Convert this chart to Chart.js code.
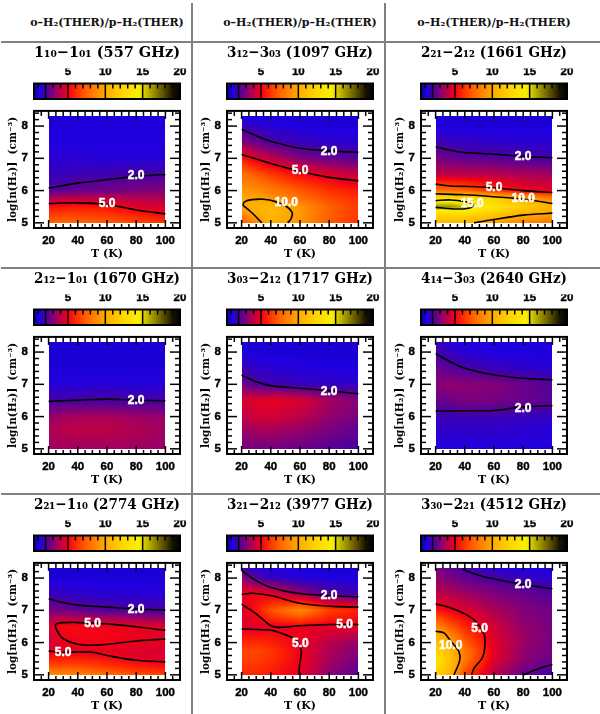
<!DOCTYPE html>
<html>
<head>
<meta charset="utf-8">
<style>
body { margin:0; background:#fff; width:600px; height:714px; overflow:hidden; position:relative; }
canvas { position:absolute; }
.rule { position:absolute; background:#7f7f7f; }
.head { position:absolute; top:16px; width:190px; text-align:center; font:bold 11px "DejaVu Serif"; color:#111; }
</style>
<script src="https://cdn.jsdelivr.net/npm/chart.js@4"></script>
</head>
<body>
<script>
const headText = 'o\u2013H\u2082(THER)/p\u2013H\u2082(THER)';
const titles = [
  '1\u2081\u2080\u22121\u2080\u2081 (557 GHz)', '3\u2081\u2082\u22123\u2080\u2083 (1097 GHz)', '2\u2082\u2081\u22122\u2081\u2082 (1661 GHz)',
  '2\u2081\u2082\u22121\u2080\u2081 (1670 GHz)', '3\u2080\u2083\u22122\u2081\u2082 (1717 GHz)', '4\u2081\u2084\u22123\u2080\u2083 (2640 GHz)',
  '2\u2082\u2081\u22121\u2081\u2080 (2774 GHz)', '3\u2082\u2081\u22122\u2081\u2082 (3977 GHz)', '3\u2083\u2080\u22122\u2082\u2081 (4512 GHz)'
];
const yTitle = 'log[n(H\u2082)]  (cm\u207B\u00B3)';
const xTitle = 'T (K)';

const xTicks = [20, 40, 60, 80, 100];
const xMinor = [10, 15, 25, 30, 35, 45, 50, 55, 65, 70, 75, 85, 90, 95, 105, 110];
const yTicks = [5, 6, 7, 8];
const yMinor = [5.2, 5.4, 5.6, 5.8, 6.2, 6.4, 6.6, 6.8, 7.2, 7.4, 7.6, 7.8, 8.2, 8.4];
const cbLabels = [5, 10, 15, 20];
const cbLevels = [2, 5, 10, 15];
const cbMinor = [1, 3, 4, 6, 7, 8, 9, 11, 12, 13, 14, 16, 17, 18, 19];

// colour table, ratio -> rgb
const cmapValues = [0, 0.5, 1.2, 2, 3, 4, 5, 6, 7.5, 10, 12.5, 14.5, 16, 18, 19, 20];
const cmapColors = [[0,0,110],[10,0,170],[32,0,225],[70,0,165],[130,0,120],[190,0,70],[240,0,25],[255,40,0],[255,100,0],[255,170,0],[255,215,0],[250,240,0],[175,165,0],[80,70,0],[25,20,0],[0,0,0]];

// grid nodes the values were read at
const tNodes = [20, 30, 40, 60, 80, 100];
const nNodes = [8.3, 8, 7.5, 7, 6.5, 6, 5.75, 5.5, 5.25, 5];

const heat557 = [
  [1.1,1.1,1.1,1.1,1.1,1.1],
  [1.1,1.1,1.1,1.1,1.1,1.1],
  [1.2,1.2,1.2,1.2,1.2,1.2],
  [1.4,1.4,1.4,1.3,1.3,1.3],
  [1.7,1.7,1.8,1.9,2.0,2.0],
  [2.2,2.4,2.6,2.7,2.9,3.0],
  [3.8,4.0,4.0,4.0,3.9,3.8],
  [5.4,5.5,5.6,5.4,4.7,4.4],
  [6.5,6.6,6.6,6.4,5.8,5.2],
  [7.5,7.6,7.6,7.2,6.8,6.4]
];
const heat1097 = [
  [1.2,1.1,1.1,1.0,1.0,1.0],
  [1.7,1.5,1.3,1.2,1.1,1.1],
  [3.0,2.6,2.1,1.7,1.5,1.4],
  [5.5,4.6,4.0,3.0,2.5,2.3],
  [8.0,7.2,6.4,5.2,4.6,4.1],
  [9.3,9.0,8.4,7.2,6.2,5.6],
  [9.9,9.8,9.3,7.9,6.8,6.2],
  [10.0,10.4,10.6,9.3,7.4,6.4],
  [8.6,10.0,10.8,9.4,7.4,6.4],
  [7.0,8.8,10.2,9.2,7.2,6.2]
];
const heat1661 = [
  [1.1,1.1,1.0,1.0,1.0,1.0],
  [1.2,1.1,1.1,1.1,1.1,1.1],
  [1.8,1.7,1.6,1.5,1.4,1.4],
  [2.8,2.6,2.4,2.3,2.1,1.95],
  [4.0,4.0,4.0,3.9,3.7,3.5],
  [8.0,7.8,7.5,6.2,5.0,4.7],
  [13.5,13.5,13.0,12.0,10.2,8.5],
  [16.3,16.3,15.6,13.5,12.0,10.6],
  [12.5,12.5,12.5,11.5,10.2,9.6],
  [10.6,10.8,10.6,9.5,8.6,8.0]
];
const heat1670 = [
  [1.0,1.0,1.0,1.0,1.0,1.0],
  [1.05,1.05,1.05,1.05,1.05,1.05],
  [1.1,1.1,1.1,1.1,1.1,1.1],
  [1.3,1.3,1.3,1.35,1.3,1.3],
  [1.95,2.0,2.0,2.05,2.0,2.0],
  [3.3,3.5,3.6,3.6,3.4,3.2],
  [3.6,3.8,3.9,3.9,3.7,3.5],
  [3.7,3.9,3.9,3.9,3.7,3.5],
  [3.6,3.7,3.7,3.7,3.6,3.4],
  [3.4,3.5,3.5,3.5,3.4,3.2]
];
const heat1717 = [
  [1.0,1.0,1.0,1.0,1.0,1.0],
  [1.2,1.1,1.05,1.0,1.0,1.0],
  [1.8,1.5,1.4,1.3,1.2,1.2],
  [2.7,2.1,1.9,1.7,1.6,1.5],
  [4.5,4.7,4.8,4.5,3.6,3.1],
  [4.0,4.3,4.4,4.0,3.3,2.8],
  [3.7,3.9,3.9,3.6,3.0,2.6],
  [3.3,3.5,3.5,3.2,2.8,2.4],
  [3.0,3.1,3.1,2.9,2.5,2.2],
  [2.8,2.8,2.8,2.6,2.3,2.1]
];
const heat2640 = [
  [1.8,1.4,1.2,1.1,1.1,1.1],
  [1.95,1.6,1.4,1.2,1.15,1.1],
  [2.6,2.3,2.0,1.7,1.5,1.4],
  [3.1,3.2,3.2,3.0,2.6,2.2],
  [2.5,2.7,2.9,2.8,2.6,2.3],
  [1.8,1.8,1.85,1.85,1.7,1.6],
  [1.6,1.6,1.6,1.6,1.5,1.4],
  [1.5,1.5,1.5,1.5,1.4,1.3],
  [1.35,1.35,1.35,1.35,1.3,1.3],
  [1.25,1.25,1.25,1.25,1.2,1.2]
];
const heat2774 = [
  [1.0,1.0,1.0,1.0,1.0,1.0],
  [1.1,1.1,1.1,1.1,1.1,1.1],
  [1.7,1.6,1.5,1.4,1.4,1.35],
  [2.9,2.7,2.5,2.2,2.1,1.98],
  [4.5,5.3,5.2,5.1,4.9,4.6],
  [4.3,4.9,5.05,5.1,4.95,4.85],
  [4.7,4.8,4.8,4.85,4.6,4.4],
  [5.7,5.7,5.7,5.4,4.85,4.6],
  [7.0,7.0,7.0,6.4,5.8,5.5],
  [9.0,8.8,8.5,7.8,7.0,6.5]
];
const heat3977 = [
  [1.9,1.4,1.2,1.1,1.0,1.0],
  [3.2,2.2,1.7,1.3,1.2,1.2],
  [5.0,5.2,4.8,3.4,2.2,1.9],
  [4.5,5.4,7.0,8.8,6.6,5.8],
  [4.6,4.7,4.9,4.9,4.8,4.8],
  [6.0,6.0,5.8,5.0,3.9,3.3],
  [6.7,6.7,6.3,5.0,3.7,3.0],
  [6.6,6.6,6.2,5.0,3.6,2.9],
  [6.2,6.2,5.9,4.9,3.4,2.5],
  [6.0,5.9,5.6,4.8,3.2,2.3]
];
const heat4512 = [
  [2.9,2.4,2.0,1.4,1.2,1.1],
  [3.3,2.9,2.5,2.0,1.7,1.5],
  [4.0,3.8,3.5,3.0,2.6,2.2],
  [5.6,5.0,4.6,3.7,3.0,2.7],
  [8.8,7.2,5.9,4.3,3.3,2.8],
  [11.5,10.0,7.4,4.7,3.4,2.8],
  [12.5,10.8,8.3,4.7,3.3,2.7],
  [13.5,11.2,8.2,4.6,3.2,2.6],
  [13.0,10.9,7.5,4.3,2.9,2.4],
  [12.0,10.3,6.6,3.9,2.5,1.9]
];

// contour lines as [T, log n]
const lines557 = [
  [[20,6.08],[40,6.23],[60,6.34],[80,6.44],[100,6.5]],
  [[20,5.6],[40,5.62],[60,5.57],[80,5.4],[100,5.28]]
];
const lines1097 = [
  [[20,7.9],[30,7.7],[40,7.53],[60,7.31],[80,7.23],[100,7.19]],
  [[20,7.12],[40,6.84],[60,6.6],[80,6.41],[100,6.3]],
  [[33.8,5],[29.2,5.22],[24.6,5.41],[21.1,5.55],[22.3,5.66],[26.9,5.72],[34.9,5.73],[43,5.66],[51,5.5],[54.7,5.31],[53.8,5.12],[51.5,5]]
];
const lines1661 = [
  [[20,7.36],[30,7.25],[40,7.18],[60,7.13],[80,7.06],[100,7.02]],
  [[20,6.2],[30,6.14],[40,6.13],[60,6.09],[80,6],[100,5.94]],
  [[20,5.9],[40,5.87],[60,5.81],[80,5.74],[100,5.6]],
  [[46.3,5],[56.6,5.08],[80,5.24],[100,5.3]],
  [[20,5.69],[30,5.71],[40,5.66],[46,5.58],[44,5.47],[35,5.43],[20,5.48]]
];
const lines1670 = [
  [[20,6.47],[40,6.51],[60,6.54],[80,6.51],[100,6.49]]
];
const lines1717 = [
  [[20,7.29],[30,7.08],[40,6.96],[60,6.88],[80,6.8],[100,6.71]]
];
const lines2640 = [
  [[20,7.95],[30,7.7],[40,7.5],[60,7.29],[80,7.19],[100,7.14]],
  [[20,6.17],[40,6.18],[60,6.19],[80,6.3],[100,6.34]]
];
const lines2774 = [
  [[20,7.36],[30,7.24],[40,7.16],[60,7.1],[80,7.04],[100,7.01]],
  [[100,6.38],[80,6.49],[60,6.58],[40,6.62],[30.3,6.62],[24.8,6.56],[26.2,6.33],[30.3,6.11],[40,5.95],[52.7,5.92],[66.9,5.98],[80,6.05],[100,6.11]],
  [[20,5.74],[30,5.7],[40,5.71],[50,5.7],[60,5.6],[80,5.45],[100,5.4]]
];
const lines3977 = [
  [[20,8.23],[30,7.92],[40,7.71],[60,7.52],[80,7.45],[100,7.42]],
  [[20,7.49],[27,7.53],[40,7.46],[60,7.22],[80,7.13],[100,7.1]],
  [[20,7.19],[30,6.89],[40,6.52],[45,6.47],[60,6.52],[80,6.56],[100,6.56]],
  [[20,6.42],[40,6.38],[50,6.24],[58,6.05],[60.9,5.72],[59.8,5.35],[59.3,5]]
];
const lines4512 = [
  [[38.3,8.28],[40,8.24],[50,8.08],[60,7.97],[80,7.8],[100,7.67]],
  [[80.6,5],[88.6,5.16],[100,5.32]],
  [[20,7.2],[30,7.08],[40,6.89],[47.4,6.66],[53,6.28],[53.8,5.91],[52,5.53],[46.3,5.2],[44.7,5]],
  [[20,6.35],[25.7,6.3],[30.3,6.05],[36,5.72],[36.5,5.44],[32.6,5]]
];

// contour labels as [T, log n, text]
const marks557 = [[80,6.46,'2.0'],[60,5.59,'5.0']];
const marks1097 = [[80,7.2,'2.0'],[60,6.61,'5.0'],[50.6,5.64,'10.0']];
const marks1661 = [[80,7.04,'2.0'],[60,6.1,'5.0'],[80,5.75,'10.0'],[45,5.58,'15.0']];
const marks1670 = [[80,6.5,'2.0']];
const marks1717 = [[80,6.78,'2.0']];
const marks2640 = [[80,6.23,'2.0']];
const marks2774 = [[80,7.03,'2.0'],[50.2,6.58,'5.0'],[30,5.69,'5.0']];
const marks3977 = [[80,7.45,'2.0'],[90.6,6.54,'5.0'],[60.2,5.98,'5.0']];
const marks4512 = [[80,7.78,'2.0'],[50.2,6.44,'5.0'],[30.3,5.9,'10.0']];

const heats = [heat557, heat1097, heat1661, heat1670, heat1717, heat2640, heat2774, heat3977, heat4512];
const lines = [lines557, lines1097, lines1661, lines1670, lines1717, lines2640, lines2774, lines3977, lines4512];
const marks = [marks557, marks1097, marks1661, marks1670, marks1717, marks2640, marks2774, marks3977, marks4512];

const colLeft = [34, 227, 421];
const rowTop = [45, 271, 497];
const sans = '"Liberation Sans"';
const serif = '"DejaVu Serif"';
const tickStyle = { family: sans, size: 11.5, weight: 'bold' };

Chart.defaults.color = '#000';
Chart.defaults.animation = false;

function colourAt(v) {
  if (v <= cmapValues[0]) return cmapColors[0];
  for (let i = 1; i < cmapValues.length; i++) {
    if (v <= cmapValues[i]) {
      const f = (v - cmapValues[i - 1]) / (cmapValues[i] - cmapValues[i - 1]);
      const a = cmapColors[i - 1], b = cmapColors[i];
      return [a[0] + (b[0] - a[0]) * f, a[1] + (b[1] - a[1]) * f, a[2] + (b[2] - a[2]) * f];
    }
  }
  return cmapColors[cmapColors.length - 1];
}

function valueAt(grid, t, n) {
  let i = 0, j = 0;
  while (i < tNodes.length - 2 && t > tNodes[i + 1]) i++;
  while (j < nNodes.length - 2 && n < nNodes[j + 1]) j++;
  const ft = Math.min(1, Math.max(0, (t - tNodes[i]) / (tNodes[i + 1] - tNodes[i])));
  const fn = Math.min(1, Math.max(0, (n - nNodes[j]) / (nNodes[j + 1] - nNodes[j])));
  const top = grid[j][i] * (1 - ft) + grid[j][i + 1] * ft;
  const bot = grid[j + 1][i] * (1 - ft) + grid[j + 1][i + 1] * ft;
  return top * (1 - fn) + bot * fn;
}

function addCanvas(left, top, w, h) {
  const c = document.createElement('canvas');
  c.width = w; c.height = h;
  c.style.left = left + 'px';
  c.style.top = top + 'px';
  c.style.width = w + 'px';
  c.style.height = h + 'px';
  document.body.appendChild(c);
  return c;
}

function tickLine(ctx, x1, y1, x2, y2) {
  ctx.beginPath();
  ctx.moveTo(x1, y1);
  ctx.lineTo(x2, y2);
  ctx.stroke();
}

const heatPlugin = {
  id: 'heat',
  beforeDatasetsDraw(chart, args, opts) {
    const x = chart.scales.x, y = chart.scales.y, ctx = chart.ctx;
    const x0 = Math.round(x.getPixelForValue(tNodes[0]));
    const x1 = Math.round(x.getPixelForValue(tNodes[tNodes.length - 1]));
    const y0 = Math.round(y.getPixelForValue(nNodes[0]));
    const y1 = Math.round(y.getPixelForValue(nNodes[nNodes.length - 1]));
    const img = ctx.createImageData(x1 - x0, y1 - y0);
    let k = 0;
    for (let py = y0; py < y1; py++) {
      const n = y.getValueForPixel(py + 0.5);
      for (let px = x0; px < x1; px++) {
        const c = colourAt(valueAt(opts.grid, x.getValueForPixel(px + 0.5), n));
        img.data[k++] = c[0]; img.data[k++] = c[1]; img.data[k++] = c[2]; img.data[k++] = 255;
      }
    }
    ctx.putImageData(img, x0, y0);
  },
  afterDatasetsDraw(chart, args, opts) {
    const x = chart.scales.x, y = chart.scales.y, ctx = chart.ctx, a = chart.chartArea;
    ctx.save();
    ctx.fillStyle = '#fff';
    ctx.strokeStyle = '#fff';
    ctx.lineWidth = 0.5;
    ctx.font = 'bold 12px ' + sans;
    ctx.textAlign = 'center';
    ctx.textBaseline = 'middle';
    opts.marks.forEach(m => {
      const px = x.getPixelForValue(m[0]), py = y.getPixelForValue(m[1]);
      ctx.fillText(m[2], px, py);
      ctx.strokeText(m[2], px, py);
    });
    // ticks on all four sides, pointing in
    ctx.strokeStyle = '#000';
    ctx.lineWidth = 1.5;
    xMinor.forEach(v => {
      const p = x.getPixelForValue(v);
      tickLine(ctx, p, a.top, p, a.top + 5);
      tickLine(ctx, p, a.bottom, p, a.bottom - 4);
    });
    xTicks.forEach(v => {
      const p = x.getPixelForValue(v);
      tickLine(ctx, p, a.top, p, a.top + 8);
      tickLine(ctx, p, a.bottom, p, a.bottom - 8);
    });
    yMinor.forEach(v => {
      const p = y.getPixelForValue(v);
      tickLine(ctx, a.left, p, a.left + 5, p);
      tickLine(ctx, a.right, p, a.right - 5, p);
    });
    yTicks.forEach(v => {
      const p = y.getPixelForValue(v);
      tickLine(ctx, a.left, p, a.left + 10, p);
      tickLine(ctx, a.right, p, a.right - 10, p);
    });
    ctx.lineWidth = 2;
    ctx.strokeRect(a.left, a.top, a.right - a.left, a.bottom - a.top);
    ctx.restore();
  }
};

const barPlugin = {
  id: 'colourbar',
  beforeDatasetsDraw(chart) {
    const x = chart.scales.x, ctx = chart.ctx, a = chart.chartArea;
    const g = ctx.createLinearGradient(a.left, 0, a.right, 0);
    const span = a.right - a.left;
    cmapValues.forEach((v, i) => {
      const f = (x.getPixelForValue(v) - a.left) / span;
      if (f >= 0 && f <= 1) g.addColorStop(f, 'rgb(' + cmapColors[i].join(',') + ')');
    });
    ctx.save();
    ctx.fillStyle = g;
    ctx.fillRect(a.left, a.top, span, a.bottom - a.top);
    ctx.strokeStyle = '#000';
    ctx.lineWidth = 1.5;
    cbMinor.forEach(v => {
      const p = x.getPixelForValue(v);
      tickLine(ctx, p, a.top, p, a.top + 5);
    });
    cbLevels.forEach(v => {
      const p = x.getPixelForValue(v);
      tickLine(ctx, p, a.top, p, a.bottom);
    });
    ctx.lineWidth = 2;
    ctx.strokeRect(a.left, a.top, span, a.bottom - a.top);
    ctx.restore();
  }
};

function drawBar(idx, left, top) {
  new Chart(addCanvas(left - 32, top, 190, 55), {
    type: 'scatter',
    data: { datasets: [{ data: cbLevels.map(v => ({ x: v, y: 0.5 })), pointRadius: 0 }] },
    plugins: [barPlugin],
    options: {
      responsive: false,
      layout: { padding: { left: 32, right: 12, bottom: 1, top: 0 } },
      plugins: {
        legend: { display: false },
        tooltip: { enabled: false },
        title: {
          display: true,
          text: titles[idx],
          font: { family: serif, size: 15, weight: 'bold', lineHeight: 1.1 },
          padding: { top: 0, bottom: 7 }
        }
      },
      scales: {
        x: {
          position: 'top',
          min: 0.45,
          max: 20,
          grid: { display: false, drawTicks: false },
          border: { display: false },
          afterBuildTicks: s => { s.ticks = cbLabels.map(v => ({ value: v })); },
          afterFit: s => { s.height = 15; },
          ticks: { maxRotation: 0, padding: 5, font: tickStyle, textStrokeColor: '#000', textStrokeWidth: 0.4 }
        },
        y: { display: false, min: 0, max: 1 }
      }
    }
  });
}

function drawPanel(idx, left, top) {
  new Chart(addCanvas(left - 32, top + 53, 190, 164), {
    type: 'scatter',
    data: {
      datasets: lines[idx].map(pts => ({
        data: pts.map(p => ({ x: p[0], y: p[1] })),
        showLine: true,
        tension: 0.3,
        borderColor: '#000',
        borderWidth: 1.6,
        pointRadius: 0
      }))
    },
    plugins: [heatPlugin],
    options: {
      responsive: false,
      layout: { padding: { left: 0, right: 12, top: 2, bottom: 0 } },
      plugins: {
        legend: { display: false },
        tooltip: { enabled: false },
        heat: { grid: heats[idx], marks: marks[idx] }
      },
      scales: {
        x: {
          min: 10,
          max: 110,
          grid: { display: false, drawTicks: false },
          border: { display: false },
          afterBuildTicks: s => { s.ticks = xTicks.map(v => ({ value: v })); },
          afterFit: s => { s.height = 34; },
          ticks: { maxRotation: 0, padding: 6, font: tickStyle, textStrokeColor: '#000', textStrokeWidth: 0.4 },
          title: { display: true, text: xTitle, padding: { top: 0, bottom: 1 }, font: { family: serif, size: 11, weight: 'bold' } }
        },
        y: {
          min: 4.84,
          max: 8.47,
          grid: { display: false, drawTicks: false },
          border: { display: false },
          afterBuildTicks: s => { s.ticks = yTicks.map(v => ({ value: v })); },
          afterFit: s => { s.width = 32; },
          ticks: { padding: 6, font: tickStyle, textStrokeColor: '#000', textStrokeWidth: 0.4 },
          title: { display: true, text: yTitle, padding: { top: 5, bottom: 0 }, font: { family: serif, size: 10.5, weight: 'bold' } }
        }
      }
    }
  });
}

function addRule(x, y, w, h) {
  const d = document.createElement('div');
  d.className = 'rule';
  d.style.cssText = 'left:' + x + 'px;top:' + y + 'px;width:' + w + 'px;height:' + h + 'px';
  document.body.appendChild(d);
}

[41, 267, 493].forEach(y => addRule(1, y, 599, 2));
[191, 384].forEach(x => addRule(x, 3, 2, 711));

colLeft.forEach(left => {
  const d = document.createElement('div');
  d.className = 'head';
  d.textContent = headText;
  d.style.left = (left - 22) + 'px';
  document.body.appendChild(d);
});

rowTop.forEach((top, r) => {
  colLeft.forEach((left, c) => {
    const idx = r * 3 + c;
    drawBar(idx, left, top);
    drawPanel(idx, left, top);
  });
});
</script>
</body>
</html>
